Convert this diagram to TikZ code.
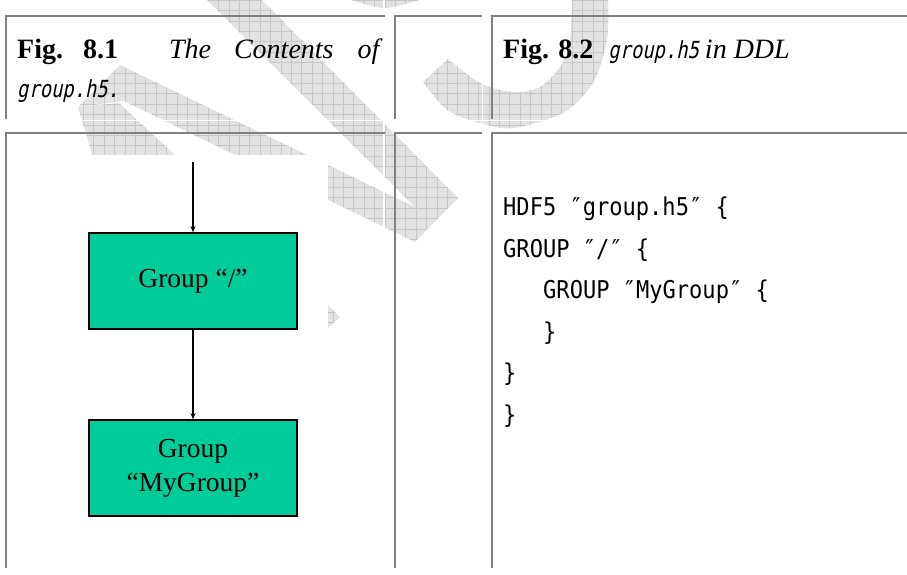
\documentclass[tikz,border=0pt]{standalone}
\usepackage{fontspec}
\setmainfont{Liberation Serif}
\newfontfamily\gothmono[FakeStretch=0.9]{DejaVu Sans Mono}
\newfontfamily\gothslant[FakeSlant=0.2,FakeStretch=0.8]{DejaVu Sans Mono}
\usetikzlibrary{arrows.meta}
\definecolor{boxgreen}{RGB}{0,204,153}
\definecolor{rulegray}{RGB}{128,128,128}
\definecolor{wmfill}{RGB}{226,226,226}
\definecolor{wmgrid}{RGB}{198,198,198}
\tikzset{
  cellrule/.style={draw=rulegray, line width=1.6pt},
  whitecut/.style={draw=white, line width=1.4pt},
  groupbox/.style={draw=black, line width=1.6pt, fill=boxgreen, minimum width=208pt, minimum height=96pt, inner sep=0pt, align=center, font=\fontsize{27.5}{34}\selectfont},
  link/.style={draw=black, line width=1.3pt},
  tip/.style={-{Stealth[length=6pt,width=5pt]}},
  capt/.style={anchor=base west, inner sep=0pt, font=\fontsize{28}{34}\selectfont},
  code/.style={anchor=base west, inner sep=0pt, font=\gothmono\fontsize{24.5}{29}\selectfont},
  wmline/.style={draw=wmgrid, line width=0.6pt},
}
\newcommand\wmpatch[1]{%
  \begin{scope}
    \clip #1;
    \fill[wmfill] (0,0) rectangle (907,574);
    \foreach \gx in {0,10.4,...,907} {\draw[wmline] (\gx,0) -- (\gx,574);}
    \foreach \gy in {0,10.4,...,574} {\draw[wmline] (0,\gy) -- (907,\gy);}
  \end{scope}}
\begin{document}
\begin{tikzpicture}[x=1pt,y=-1pt]
\useasboundingbox (0,0) rectangle (907,574);
\fill[white] (0,0) rectangle (907,574);
% watermark
\wmpatch{(207,0) -- (262,0) -- (458,198) -- (415,242) -- (415,207) -- cycle}
\wmpatch{(120,65) -- (415,207) -- (415,242) -- (124,101) -- (78,107) -- cycle}
\wmpatch{(78,107) -- (119,103) -- (177,157) -- (93,157) -- cycle}
\wmpatch{plot[smooth] coordinates {(423,82) (447,110) (480,123) (513,128) (563,113) (593,83) (607,40) (608,-2)} -- plot[smooth] coordinates {(572,-2) (570,40) (560,67) (540,87) (513,92) (480,83) (448,59)} -- cycle}
\wmpatch{plot[smooth] coordinates {(345,-2) (385,8) (425,-2)} -- cycle}
\wmpatch{(328,305) -- (340,317) -- (328,328) -- cycle}
\fill[white] (87,155) rectangle (328,560);
\draw[whitecut] (0,120.5) -- (907,120.5);
\draw[whitecut] (384,0) -- (384,574);
\draw[whitecut] (482.5,0) -- (482.5,574);
% table rules
\draw[cellrule] (6,119) -- (6,16) -- (385,16);
\draw[cellrule] (395,119) -- (395,16) -- (482,16);
\draw[cellrule] (492,119) -- (492,16) -- (907,16);
\draw[cellrule] (6,568) -- (6,133) -- (385,133);
\draw[cellrule] (395,568) -- (395,133) -- (482,133);
\draw[cellrule] (492,568) -- (492,133) -- (907,133);
% captions
\node[capt] (c1a) at (17,58) {\textbf{Fig.}\hspace{20pt}\textbf{8.1}\hspace{51pt}\textit{The}\hspace{23pt}\textit{Contents}\hspace{24pt}\textit{of}};
\node[capt, font=\gothslant\fontsize{23.5}{26}\selectfont] (c1b) at (17,97) {group.h5.};
\node[capt] (c2) at (503,58) {\textbf{Fig. 8.2}\hspace{15pt}{\gothslant\fontsize{23.5}{26}\selectfont group.h5}\hspace{6pt}\textit{in DDL}};
% diagram
\node[groupbox] (g1) at (193,281) {Group “/”};
\node[groupbox] (g2) at (193,468) {Group\\“MyGroup”};
\coordinate (entry) at (193,162);
\draw[link, tip] (entry) -- (g1.north);
\draw[link, tip] (g1.south) -- (g2.north);
% DDL code
\node[code] (l1) at (503,215) {HDF5 ″group.h5″ \{};
\node[code] (l2) at (503,257) {GROUP ″/″ \{};
\node[code] (l3) at (543,298) {GROUP ″MyGroup″ \{};
\node[code] (l4) at (543,340) {\}};
\node[code] (l5) at (503,381) {\}};
\node[code] (l6) at (503,423) {\}};
\end{tikzpicture}
\end{document}
